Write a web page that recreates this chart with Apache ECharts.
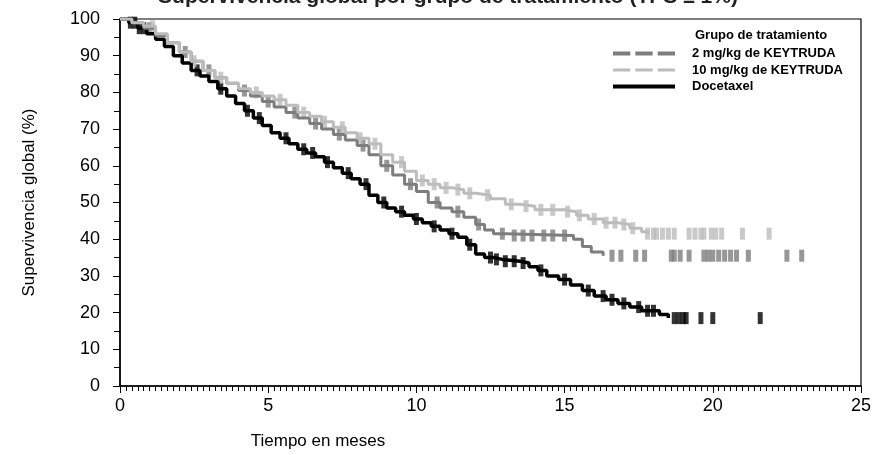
<!DOCTYPE html>
<html>
<head>
<meta charset="utf-8">
<script src="https://cdn.jsdelivr.net/npm/echarts@6/dist/echarts.min.js"></script>
<style>
    html, body { margin: 0; padding: 0; background: #fff; }
    #chart { width: 874px; height: 455px; }
</style>
</head>
<body>
<div id="chart"></div>
<script>
// Kaplan-Meier steps (months, % alive)
let doc_time = [0, 0.3, 0.6, 0.9, 1.2, 1.5, 1.8, 2.1, 2.4, 2.7, 3.0, 3.3, 3.6, 3.9, 4.2, 4.5, 4.8, 5.1, 5.4, 5.7,
    6.0, 6.3, 6.6, 6.9, 7.2, 7.5, 7.8, 8.1, 8.4, 8.7, 9.0, 9.3, 9.6, 9.9, 10.2, 10.5, 10.8, 11.1, 11.4, 11.7,
    12.0, 12.3, 12.6, 12.9, 13.5, 13.8, 14.1, 14.4, 14.8, 15.2, 15.6, 16.0, 16.4, 16.8, 17.2, 17.6, 18.2, 18.5];
let doc_surv = [100, 99, 97.5, 96, 94.5, 92.5, 90, 88, 86, 84.5, 83, 81, 79, 77, 75, 73, 71, 69, 67.5, 66,
    64.5, 63.5, 62.5, 61, 59.5, 58, 56.5, 55, 52, 50, 48.5, 47.5, 46.5, 45.5, 44.5, 43.5, 42.5, 41.5, 40.5, 38.5,
    36, 35, 34.5, 34, 33.5, 32.5, 31.5, 30, 29, 27.5, 26, 24.5, 23.5, 22.5, 21.5, 20.5, 19.5, 18.5];

let mg2_time = [0, 0.4, 0.8, 1.2, 1.6, 2.0, 2.4, 2.8, 3.2, 3.6, 4.0, 4.4, 4.8, 5.2, 5.6, 6.0, 6.4, 6.8, 7.2, 7.6,
    8.0, 8.4, 8.8, 9.2, 9.6, 10.0, 10.4, 10.8, 11.2, 11.6, 12.0, 12.3, 12.6, 13.0, 15.3, 15.6, 15.9, 16.3];
let mg2_surv = [100, 99, 97.5, 95.5, 93.5, 91, 88.5, 86, 84, 82.5, 80.5, 79, 77.5, 76, 74.5, 73, 71.5, 70, 68.5, 67,
    65.5, 63, 60, 57.5, 55, 53, 50, 48.5, 47.5, 46, 44, 42.5, 41.5, 41, 40, 38, 36.5, 35.5];

let mg10_time = [0, 0.4, 0.8, 1.2, 1.6, 2.0, 2.4, 2.8, 3.2, 3.6, 4.0, 4.4, 4.8, 5.2, 5.6, 6.0, 6.4, 6.8, 7.2, 7.6,
    8.0, 8.4, 8.8, 9.2, 9.6, 10.0, 10.4, 10.8, 11.2, 11.6, 12.0, 12.5, 13.0, 13.5, 14.0, 15.0, 15.4, 15.8, 16.3,
    16.8, 17.2, 17.6, 17.8];
let mg10_surv = [100, 99, 98, 96, 93.5, 91, 88.5, 86, 84, 82.5, 81, 80, 79, 78, 76.5, 74.5, 73.5, 72, 70.5, 69,
    67.5, 66, 63, 61, 58.5, 56, 55, 54, 53.5, 52.5, 52, 51, 49.5, 49, 48, 47.5, 46.5, 45.5, 44.5,
    44, 43, 42, 41.5];

// censoring marks (months)
let doc_censor = [0.35, 0.5, 0.65, 0.8, 2.6, 3.4, 4.3, 4.7, 5.6, 6.2, 6.5, 7.0, 7.7, 8.3, 8.9, 9.5, 10.0, 10.6, 11.2,
    11.8, 12.5, 12.7, 13.0, 13.3, 13.6, 14.2, 15.0, 15.8, 16.3, 16.6, 17.0, 17.5, 17.8, 18.0, 18.7, 18.85, 19.0,
    19.1, 19.6, 20.0, 21.6];
let mg2_censor = [1.0, 2.2, 3.0, 4.2, 5.0, 5.9, 6.6, 7.4, 8.2, 9.0, 9.8, 10.7, 11.4, 12.1, 12.9, 13.3, 13.6, 13.9,
    14.3, 14.6, 15.0, 16.6, 16.9, 17.4, 17.7, 18.6, 18.7, 18.9, 19.2, 19.7, 19.85, 20.0, 20.2, 20.4, 20.6, 20.8,
    21.2, 22.5, 23.0];
let mg10_censor = [1.1, 2.5, 3.4, 4.6, 5.4, 6.2, 6.9, 7.5, 8.1, 8.6, 9.5, 10.2, 10.6, 11.0, 11.4, 11.8, 12.4, 13.2,
    13.7, 14.2, 14.6, 15.1, 15.5, 16.0, 16.4, 16.7, 17.0, 17.3, 17.8, 18.0, 18.1, 18.3, 18.5, 18.7, 19.2, 19.4,
    19.6, 19.7, 19.95, 20.1, 20.3, 21.0, 21.9];

let group_names = ['2 mg/kg de KEYTRUDA', '10 mg/kg de KEYTRUDA', 'Docetaxel'];
let x_ticks = [0, 5, 10, 15, 20, 25];
let y_ticks = [0, 10, 20, 30, 40, 50, 60, 70, 80, 90, 100];

let arial = '"Liberation Sans", Arial, sans-serif';

let zip = function (a, b) {
    return a.map(function (v, i) {
        return [v, b[i]];
    });
};

let step_at = function (times, surv, t) {
    let v = surv[0];
    for (let i = 0; i < times.length; i++) {
        if (times[i] <= t) {
            v = surv[i];
        }
    }
    return v;
};

let censor_points = function (censor, times, surv) {
    return censor.map(function (t) {
        return [t, step_at(times, surv, t)];
    });
};

let curve = function (name, data, color, width) {
    return {
        name: name,
        type: 'line',
        step: 'end',
        showSymbol: false,
        symbol: 'none',
        data: data,
        lineStyle: {color: color, width: width},
        itemStyle: {color: color},
        animation: false
    };
};

let marks = function (name, data, color) {
    return {
        name: name,
        type: 'scatter',
        symbol: 'rect',
        symbolSize: [5, 12],
        data: data,
        itemStyle: {color: color},
        animation: false
    };
};

let dark = '#7d7d7d';
let light = '#bcbcbc';

let chart = echarts.init(document.getElementById('chart'));

let option = {
    backgroundColor: '#fff',
    title: {
        text: 'Grupo de tratamiento',
        left: 690,
        top: 24,
        textStyle: {fontFamily: arial, fontSize: 13, fontWeight: 'bold', color: '#000'}
    },
    // the chart title is cut off by the top edge of the picture
    graphic: [{
        type: 'text',
        x: 448,
        y: -3,
        silent: true,
        style: {
            text: 'Supervivencia global por grupo de tratamiento (TPS ≥ 1%)',
            align: 'center',
            verticalAlign: 'middle',
            font: 'bold 21px "Liberation Sans", Arial, sans-serif',
            fill: '#222'
        }
    }],
    legend: {
        orient: 'vertical',
        left: 608,
        top: 42,
        itemWidth: 62,
        itemHeight: 14,
        itemGap: 3.5,
        textStyle: {fontFamily: arial, fontSize: 13, fontWeight: 'bold', color: '#000', padding: [0, 0, 0, 12]},
        data: [
            {name: group_names[0], icon: 'path://M0,0h17v4h-17z M22,0h17v4h-17z M44,0h17v4h-17z', itemStyle: {color: dark}},
            {name: group_names[1], icon: 'path://M0,0h17v3h-17z M22,0h17v3h-17z M44,0h17v3h-17z', itemStyle: {color: light}},
            {name: group_names[2], icon: 'path://M0,0h61v4h-61z', itemStyle: {color: '#000'}}
        ]
    },
    grid: {
        left: 120,
        right: 11,
        top: 19,
        bottom: 69,
        show: true,
        borderColor: '#000',
        borderWidth: 1.2,
        backgroundColor: 'transparent'
    },
    xAxis: {
        type: 'value',
        min: x_ticks[0],
        max: x_ticks[x_ticks.length - 1],
        interval: 5,
        name: 'Tiempo en meses',
        nameLocation: 'middle',
        nameGap: 47,
        nameTextStyle: {fontFamily: arial, fontSize: 17, color: '#000', padding: [0, 345, 0, 0]},
        axisLine: {lineStyle: {color: '#000', width: 1.5}},
        axisTick: {length: 7, lineStyle: {color: '#000'}},
        minorTick: {show: true, splitNumber: 25, length: 5, lineStyle: {color: '#000'}},
        splitLine: {show: false},
        axisLabel: {fontFamily: arial, fontSize: 18, color: '#000', margin: 11}
    },
    yAxis: {
        type: 'value',
        min: y_ticks[0],
        max: y_ticks[y_ticks.length - 1],
        interval: 10,
        name: 'Supervivencia global (%)',
        nameLocation: 'middle',
        nameGap: 82,
        nameTextStyle: {fontFamily: arial, fontSize: 17, color: '#000'},
        axisLine: {lineStyle: {color: '#000', width: 1.5}},
        axisTick: {length: 7, lineStyle: {color: '#000'}},
        minorTick: {show: true, splitNumber: 2, length: 6, lineStyle: {color: '#000'}},
        splitLine: {show: false},
        axisLabel: {fontFamily: arial, fontSize: 18, color: '#000', margin: 20}
    },
    series: [
        curve(group_names[2], zip(doc_time, doc_surv), '#000', 3.5),
        marks('doc_censor', censor_points(doc_censor, doc_time, doc_surv), '#000'),
        curve(group_names[0], zip(mg2_time, mg2_surv), dark, 3),
        marks('mg2_censor', censor_points(mg2_censor, mg2_time, mg2_surv), dark),
        curve(group_names[1], zip(mg10_time, mg10_surv), light, 3),
        marks('mg10_censor', censor_points(mg10_censor, mg10_time, mg10_surv), light)
    ]
};

chart.setOption(option);
</script>
</body>
</html>
